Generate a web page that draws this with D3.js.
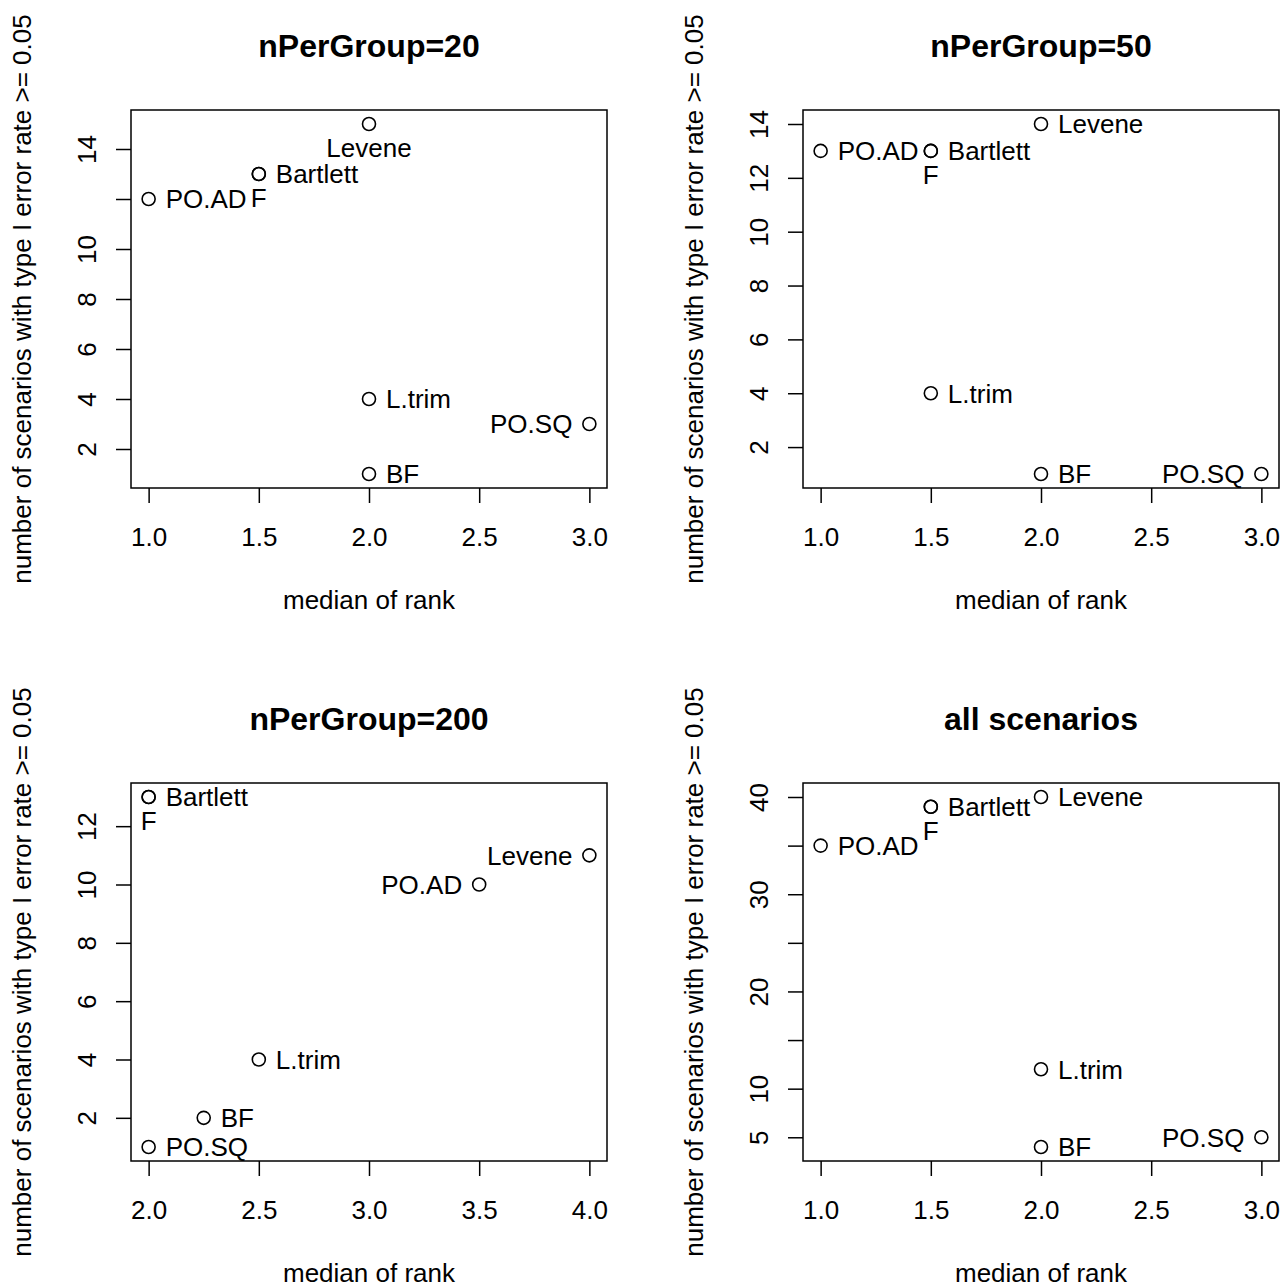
<!DOCTYPE html>
<html>
<head>
<meta charset="utf-8">
<script src="https://cdn.jsdelivr.net/npm/d3@7"></script>
<style>
  body { margin: 0; background: #fff; }
  svg { display: block; }
</style>
</head>
<body>
<script>
// test names, same order in every panel
const methods = ['Bartlett', 'F', 'Levene', 'L.trim', 'BF', 'PO.AD', 'PO.SQ'];

// median of rank per method
const rank20  = [1.5, 1.5, 2, 2, 2, 1, 3];
const rank50  = [1.5, 1.5, 2, 1.5, 2, 1, 3];
const rank200 = [2, 2, 4, 2.5, 2.25, 3.5, 2];
const rankAll = [1.5, 1.5, 2, 2, 2, 1, 3];

// number of scenarios with type I error rate >= 0.05
const count20  = [13, 13, 15, 4, 1, 12, 3];
const count50  = [13, 13, 14, 4, 1, 13, 1];
const count200 = [13, 13, 11, 4, 2, 10, 1];
const countAll = [39, 39, 40, 12, 4, 35, 5];

// R text() pos codes: 1 below, 2 left, 4 right
const pos20  = [4, 1, 1, 4, 4, 4, 2];
const pos50  = [4, 1, 4, 4, 4, 4, 2];
const pos200 = [4, 1, 2, 4, 4, 2, 4];
const posAll = [4, 1, 4, 4, 4, 4, 2];

const titles = ['nPerGroup=20', 'nPerGroup=50', 'nPerGroup=200', 'all scenarios'];

// axis ticks, and which y ticks carry a label
const xTicks13 = [1.0, 1.5, 2.0, 2.5, 3.0];
const xTicks24 = [2.0, 2.5, 3.0, 3.5, 4.0];
const yTicks20  = [2, 4, 6, 8, 10, 12, 14];
const yLabels20 = [2, 4, 6, 8, 10, 14];
const yTicks50  = [2, 4, 6, 8, 10, 12, 14];
const yLabels50 = [2, 4, 6, 8, 10, 12, 14];
const yTicks200  = [2, 4, 6, 8, 10, 12];
const yLabels200 = [2, 4, 6, 8, 10, 12];
const yTicksAll  = [5, 10, 15, 20, 25, 30, 35, 40];
const yLabelsAll = [5, 10, 20, 30, 40];

const panels = [
  {title: titles[0], rank: rank20,  count: count20,  pos: pos20,  xt: xTicks13, yt: yTicks20,  yl: yLabels20},
  {title: titles[1], rank: rank50,  count: count50,  pos: pos50,  xt: xTicks13, yt: yTicks50,  yl: yLabels50},
  {title: titles[2], rank: rank200, count: count200, pos: pos200, xt: xTicks24, yt: yTicks200, yl: yLabels200},
  {title: titles[3], rank: rankAll, count: countAll, pos: posAll, xt: xTicks13, yt: yTicksAll, yl: yLabelsAll}
];

const width = 1283, height = 1285;
// plot boxes, top-left corners
const boxX = [131, 803], boxY = [110, 783];
const boxW = 476, boxH = 378;
const font = 'Liberation Sans, Arial, Helvetica, sans-serif';
const fs = 26;

const svg = d3.select('body').append('svg')
  .attr('width', width)
  .attr('height', height)
  .style('background', '#fff');

// R style range padding of 4%
function padded(vals) {
  const [lo, hi] = d3.extent(vals);
  const d = (hi - lo) * 0.04;
  return [lo - d, hi + d];
}

panels.forEach(function(p, i) {
  const x0 = boxX[i % 2], y0 = boxY[Math.floor(i / 2)];
  const g = svg.append('g').attr('transform', `translate(${x0},${y0})`);

  const xScale = d3.scaleLinear().domain(padded(p.rank)).range([0, boxW]);
  const yScale = d3.scaleLinear().domain(padded(p.count)).range([boxH, 0]);

  // x axis
  const xAxis = d3.axisBottom(xScale).tickValues(p.xt).tickSize(15).tickFormat(d3.format('.1f'));
  const gx = g.append('g').attr('transform', `translate(0,${boxH})`).call(xAxis);
  gx.select('.domain').remove();
  gx.selectAll('line').attr('stroke', '#000').attr('stroke-width', 1.5);
  gx.selectAll('text')
    .attr('y', 58).attr('dy', null)
    .attr('fill', '#000')
    .attr('font-family', font).attr('font-size', fs);

  // y axis, labels parallel to the axis
  const yAxis = d3.axisLeft(yScale).tickValues(p.yt).tickSize(15)
    .tickFormat(d => p.yl.includes(d) ? d : '');
  const gy = g.append('g').call(yAxis);
  gy.select('.domain').remove();
  gy.selectAll('line').attr('stroke', '#000').attr('stroke-width', 1.5);
  gy.selectAll('text')
    .attr('transform', 'rotate(-90)')
    .attr('x', 0).attr('y', -35).attr('dy', null)
    .attr('text-anchor', 'middle')
    .attr('fill', '#000')
    .attr('font-family', font).attr('font-size', fs);

  // box
  g.append('rect')
    .attr('width', boxW).attr('height', boxH)
    .attr('fill', 'none').attr('stroke', '#000').attr('stroke-width', 1.5);

  // points
  const rows = methods.map((m, j) => ({name: m, x: p.rank[j], y: p.count[j], pos: p.pos[j]}));
  g.selectAll('circle')
    .data(rows)
    .join('circle')
    .attr('cx', d => xScale(d.x))
    .attr('cy', d => yScale(d.y))
    .attr('r', 6.5)
    .attr('fill', 'none')
    .attr('stroke', '#000')
    .attr('stroke-width', 1.6);

  g.selectAll('text.lab')
    .data(rows)
    .join('text')
    .attr('class', 'lab')
    .attr('x', d => xScale(d.x) + (d.pos === 4 ? 17 : d.pos === 2 ? -17 : 0))
    .attr('y', d => yScale(d.y) + (d.pos === 1 ? 33 : 0))
    .attr('dy', d => d.pos === 1 ? null : '0.36em')
    .attr('text-anchor', d => d.pos === 4 ? 'start' : d.pos === 2 ? 'end' : 'middle')
    .attr('font-family', font).attr('font-size', fs)
    .text(d => d.name);

  // title and axis titles
  g.append('text')
    .attr('x', boxW / 2).attr('y', -53)
    .attr('text-anchor', 'middle')
    .attr('font-family', font).attr('font-size', 32).attr('font-weight', 'bold')
    .text(p.title);

  g.append('text')
    .attr('x', boxW / 2).attr('y', boxH + 121)
    .attr('text-anchor', 'middle')
    .attr('font-family', font).attr('font-size', fs)
    .text('median of rank');

  g.append('text')
    .attr('transform', `translate(-100,${boxH / 2}) rotate(-90)`)
    .attr('text-anchor', 'middle')
    .attr('font-family', font).attr('font-size', fs)
    .text('number of scenarios with type I error rate >= 0.05');
});
</script>
</body>
</html>
